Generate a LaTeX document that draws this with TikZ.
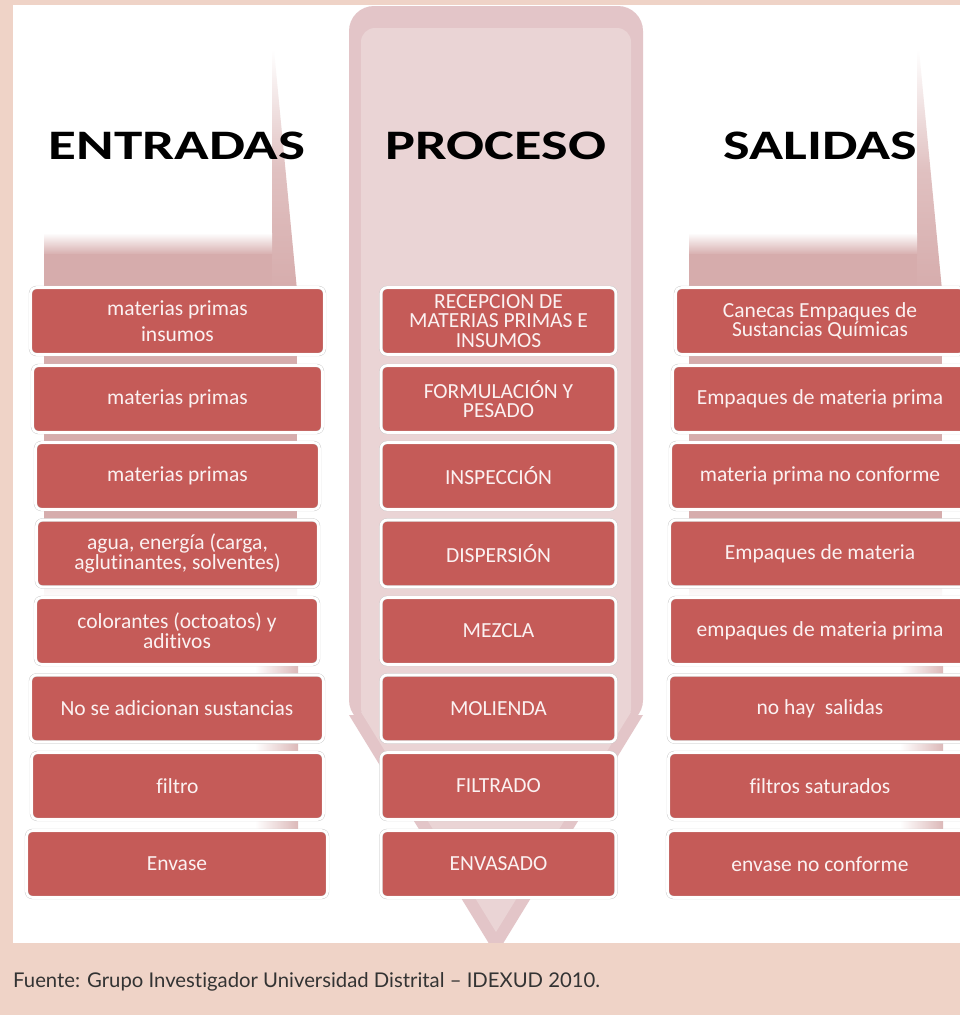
\documentclass[tikz,border=0pt]{standalone}
\usepackage{fontspec}
\usepackage{graphicx}
\newfontfamily\carlito[Ligatures=NoCommon]{Carlito}
\newfontfamily\lato[Ligatures=NoCommon]{Lato}
\definecolor{marco}{HTML}{EFD3C7}
\definecolor{flecha}{HTML}{D6ACAC}
\definecolor{procborde}{HTML}{E3C5C8}
\definecolor{procfondo}{HTML}{EAD4D5}
\definecolor{rojocaja}{HTML}{C55B58}
\definecolor{textocaja}{HTML}{FBF1F1}

\begin{document}
\begin{tikzpicture}[x=1pt,y=-1pt,
    caja/.style={rounded corners=6pt, fill=rojocaja, draw=black!22,
      double=white, double distance=2.6pt, line width=0.4pt,
      minimum height=67pt, inner sep=1pt, align=center, text=textocaja,
      font=\carlito\fontsize{21.5}{19.6}\selectfont},
    titulo/.style={font=\carlito\bfseries\fontsize{42}{42}\selectfont}]
  \useasboundingbox (0,0) rectangle (960,1015);
  \fill[marco] (0,0) rectangle (960,1015);
  \fill[white] (13,5) rectangle (960,943);

  % flechas de entradas y salidas
  \foreach \dx in {0,645} {
    \begin{scope}[xshift=\dx pt]
      \shade[top color=white, bottom color=flecha, middle color=flecha!75]
        (272,50) -- (274,50) -- (297,290) -- (272,290) -- cycle;
      \shade[top color=white, bottom color=flecha] (44,233) rectangle (272,255);
      \fill[flecha] (44,254) rectangle (272,291);
      \fill[flecha] (44,289) rectangle (297,520);
      \shade[top color=flecha, bottom color=white] (44,519) rectangle (297,600);
      \shade[left color=white, right color=flecha!85] (255,599) rectangle (298,830);
    \end{scope}
  }

  % flecha del proceso
  \begin{scope}
    \fill[procborde, rounded corners=25pt] (349,6) rectangle (643,725);
    \fill[procborde] (349,715) -- (643,715) -- (496,955) -- cycle;
    \fill[procfondo, rounded corners=14pt] (361,28) rectangle (631,722);
    \fill[procfondo] (361,712) -- (631,712) -- (496,932) -- cycle;
  \end{scope}

  \node[titulo] (tent) at (177,146) {\scalebox{1.36}[1]{ENTRADAS}};
  \node[titulo] (tpro) at (496,146) {\scalebox{1.34}[1]{PROCESO}};
  \node[titulo] (tsal) at (820,146) {\scalebox{1.34}[1]{SALIDAS}};

  \node[caja, minimum width=294pt] (e1) at (177.5,321) {materias primas\\[6pt]insumos};
  \node[caja, minimum width=290pt] (e2) at (177.5,399) {materias primas};
  \node[caja, minimum width=284pt] (e3) at (177.5,476) {materias primas};
  \node[caja, minimum width=282pt] (e4) at (177.5,553.5) {agua, energía (carga,\\aglutinantes, solventes)};
  \node[caja, minimum width=283pt] (e5) at (177,631) {colorantes (octoatos) y\\aditivos};
  \node[caja, minimum width=293pt] (e6) at (177,708.5) {No se adicionan sustancias};
  \node[caja, minimum width=292pt] (e7) at (177.5,786) {filtro};
  \node[caja, minimum width=301pt] (e8) at (177,864) {Envase};

  \node[caja, minimum width=235pt] (p1) at (498.5,321) {RECEPCION DE\\MATERIAS PRIMAS E\\INSUMOS};
  \node[caja, minimum width=235pt] (p2) at (498.5,399) {FORMULACIÓN Y\\PESADO};
  \node[caja, minimum width=235pt] (p3) at (498.5,476) {INSPECCIÓN};
  \node[caja, minimum width=235pt] (p4) at (498.5,553.5) {DISPERSIÓN};
  \node[caja, minimum width=235pt] (p5) at (498.5,631) {MEZCLA};
  \node[caja, minimum width=235pt] (p6) at (498.5,708.5) {MOLIENDA};
  \node[caja, minimum width=235pt] (p7) at (498.5,786) {FILTRADO};
  \node[caja, minimum width=235pt] (p8) at (498.5,864) {ENVASADO};

  \node[caja, minimum width=289pt] (s1) at (820,321) {Canecas Empaques de\\Sustancias Químicas};
  \node[caja, minimum width=295pt] (s2) at (820,399) {Empaques de materia prima};
  \node[caja, minimum width=299pt] (s3) at (820,476) {materia prima no conforme};
  \node[caja, minimum width=301pt] (s4) at (820,553.5) {Empaques de materia};
  \node[caja, minimum width=301pt] (s5) at (820,631) {empaques de materia prima};
  \node[caja, minimum width=303pt] (s6) at (820,708.5) {no hay\ \ salidas};
  \node[caja, minimum width=303pt] (s7) at (820,786) {filtros saturados};
  \node[caja, minimum width=305pt] (s8) at (820,864) {envase no conforme};

  \fill[marco] (0,943) rectangle (960,1015);
  \node[anchor=base west, inner sep=0pt, text=black!80,
        font=\lato\fontsize{20.3}{22}\selectfont] (fuente) at (13,987)
    {Fuente: Grupo Investigador Universidad Distrital – IDEXUD 2010.};
\end{tikzpicture}
\end{document}
